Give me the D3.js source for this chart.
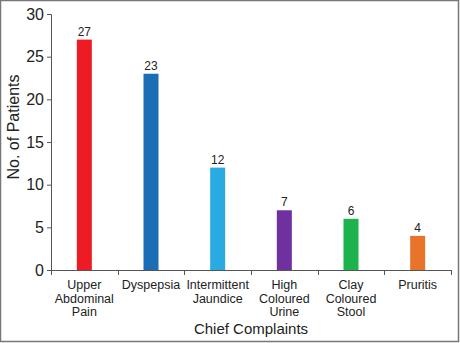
<!DOCTYPE html>
<html>
<head>
<meta charset="utf-8">
<script src="https://cdn.jsdelivr.net/npm/d3@7"></script>
<style>
  body { margin: 0; background: #fff; }
  svg { display: block; font-family: Arial, "Liberation Sans", sans-serif; }
</style>
</head>
<body>
<script>
    // chief complaints, one bar each
    let complaints = [
        ["Upper", "Abdominal", "Pain"],
        ["Dyspepsia"],
        ["Intermittent", "Jaundice"],
        ["High", "Coloured", "Urine"],
        ["Clay", "Coloured", "Stool"],
        ["Pruritis"]
    ];
    let patients = [27, 23, 12, 7, 6, 4];
    let barColors = ["#ed1c24", "#1b6db4", "#29abe2", "#7030a0", "#1db34c", "#e8732a"];
    let yTicks = [0, 5, 10, 15, 20, 25, 30];

    let w = 460;
    let h = 343;
    let plotLeft = 51, plotRight = 451, plotTop = 14, plotBottom = 270;

    let svg = d3.select("body")
        .append("svg")
        .attr("width", w)
        .attr("height", h);

    // outer frame
    svg.append("rect")
        .attr("x", 0.5).attr("y", 0.5)
        .attr("width", w - 2).attr("height", h - 2)
        .attr("fill", "none")
        .attr("stroke", "#777")
        .attr("stroke-width", 1.5);

    let xScale = d3.scaleBand()
        .domain(d3.range(patients.length))
        .range([plotLeft, plotRight]);

    let yScale = d3.scaleLinear()
        .domain([0, 30])
        .range([plotBottom, plotTop]);

    let lineColor = "#555";

    let yAxis = svg.append("g")
        .attr("transform", "translate(" + plotLeft + ",0)")
        .call(d3.axisLeft(yScale).tickValues(yTicks).tickSize(4).tickPadding(3));
    yAxis.selectAll("text")
        .attr("font-size", "16px")
        .attr("fill", "#222");
    yAxis.select(".domain").attr("stroke", lineColor);
    yAxis.selectAll(".tick line").attr("stroke", lineColor);

    // x axis line and category dividers
    svg.append("line")
        .attr("x1", plotLeft).attr("x2", plotRight + 0.5)
        .attr("y1", plotBottom + 0.5).attr("y2", plotBottom + 0.5)
        .attr("stroke", lineColor);
    svg.selectAll(".divider")
        .data(d3.range(patients.length + 1))
        .enter()
        .append("line")
        .attr("class", "divider")
        .attr("x1", function(d) { return Math.round(plotLeft + d * xScale.step()) + 0.5; })
        .attr("x2", function(d) { return Math.round(plotLeft + d * xScale.step()) + 0.5; })
        .attr("y1", plotBottom)
        .attr("y2", plotBottom + 5)
        .attr("stroke", lineColor);

    let barW = 15;

    svg.selectAll("rect.bar")
        .data(patients)
        .enter()
        .append("rect")
        .attr("class", "bar")
        .attr("x", function(d, i) { return xScale(i) + xScale.bandwidth() / 2 - barW / 2; })
        .attr("y", function(d) { return yScale(d); })
        .attr("width", barW)
        .attr("height", function(d) { return plotBottom - yScale(d); })
        .attr("fill", function(d, i) { return barColors[i]; });

    svg.selectAll("text.value")
        .data(patients)
        .enter()
        .append("text")
        .attr("class", "value")
        .attr("x", function(d, i) { return xScale(i) + xScale.bandwidth() / 2; })
        .attr("y", function(d) { return yScale(d) - 4; })
        .attr("text-anchor", "middle")
        .attr("font-size", "12px")
        .attr("fill", "#222")
        .text(function(d) { return d; });

    // multi-line category labels
    let cats = svg.selectAll("text.cat")
        .data(complaints)
        .enter()
        .append("text")
        .attr("class", "cat")
        .attr("text-anchor", "middle")
        .attr("font-size", "12.5px")
        .attr("fill", "#222");
    cats.selectAll("tspan")
        .data(function(d, i) { return d.map(function(s) { return { s: s, i: i }; }); })
        .enter()
        .append("tspan")
        .attr("x", function(d) { return xScale(d.i) + xScale.bandwidth() / 2; })
        .attr("y", function(d, j) { return 289 + j * 13.5; })
        .text(function(d) { return d.s; });

    svg.append("text")
        .attr("x", (plotLeft + plotRight) / 2)
        .attr("y", 334)
        .attr("text-anchor", "middle")
        .attr("font-size", "15px")
        .attr("fill", "#222")
        .text("Chief Complaints");

    svg.append("text")
        .attr("transform", "translate(19,127) rotate(-90)")
        .attr("text-anchor", "middle")
        .attr("font-size", "16px")
        .attr("fill", "#222")
        .text("No. of Patients");
</script>
</body>
</html>
